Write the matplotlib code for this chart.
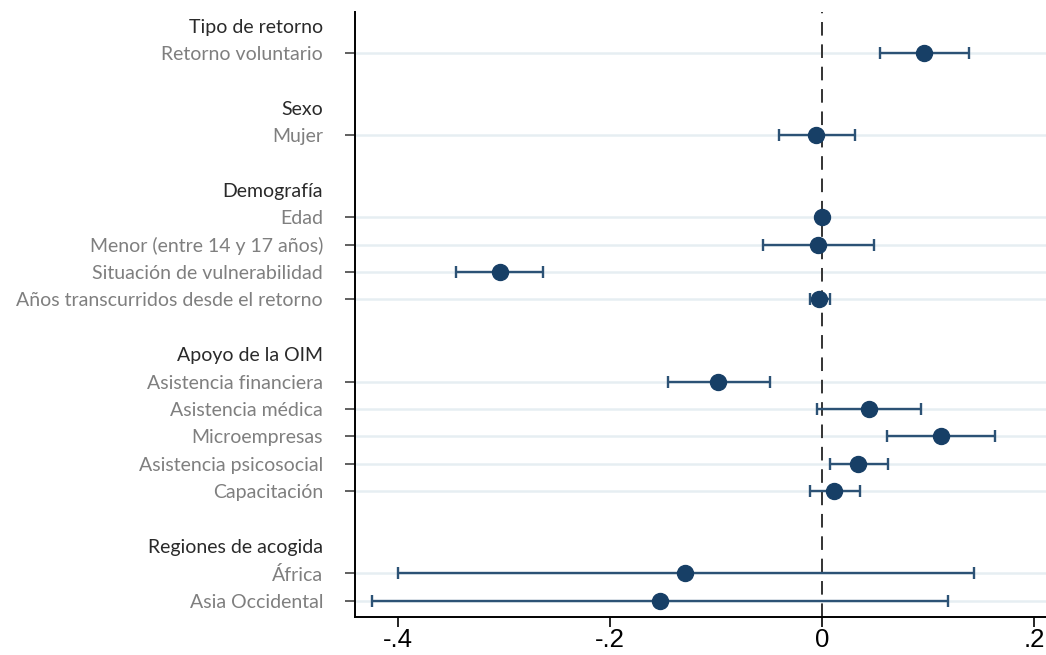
import numpy as np
import matplotlib.pyplot as plt

# Row layout: headers and variables, top to bottom
headers = ["Tipo de retorno", "Sexo", "Demografía", "Apoyo de la OIM", "Regiones de acogida"]
header_rows = [0, 3, 6, 12, 19]

labels = ["Retorno voluntario", "Mujer", "Edad", "Menor (entre 14 y 17 años)",
          "Situación de vulnerabilidad", "Años transcurridos desde el retorno",
          "Asistencia financiera", "Asistencia médica", "Microempresas",
          "Asistencia psicosocial", "Capacitación", "África", "Asia Occidental"]
label_rows = [1, 4, 7, 8, 9, 10, 13, 14, 15, 16, 17, 20, 21]

coef = [0.096, -0.006, 0.000, -0.004, -0.304, -0.003,
        -0.098, 0.044, 0.112, 0.034, 0.011, -0.129, -0.153]
ci_low = [0.054, -0.041, -0.001, -0.056, -0.345, -0.012,
          -0.145, -0.005, 0.061, 0.007, -0.012, -0.400, -0.425]
ci_high = [0.138, 0.031, 0.001, 0.049, -0.263, 0.007,
           -0.049, 0.093, 0.163, 0.062, 0.036, 0.143, 0.119]

xticks = [-0.4, -0.2, 0, 0.2]
xtick_labels = ["-.4", "-.2", "0", ".2"]

navy = "#173f66"
line_col = "#2c5275"

fig = plt.figure(figsize=(10.46, 6.55), dpi=100)
ax = fig.add_axes([0.3394, 0.058, 0.6606, 0.9237])

coef = np.array(coef)
err = np.vstack([coef - np.array(ci_low), np.array(ci_high) - coef])

for r in label_rows:
    ax.axhline(r, color="#e6eef2", lw=1.8, zorder=0)

ax.axvline(0, color="#333333", lw=1.4, ls=(0, (7, 4.5)), zorder=1)

ax.errorbar(coef, label_rows, xerr=err, fmt="o", color=navy, ecolor=line_col,
            elinewidth=1.7, capsize=4.5, capthick=1.7, markersize=11.5, zorder=3)

ax.set_ylim(21.6, -0.5)
ax.set_xlim(-0.4406, 0.211)

# variable labels as major ticks, group headers as minor ticks without a tick mark
ax.set_yticks(label_rows)
ax.set_yticklabels(labels)
ax.set_yticks(header_rows, minor=True)
ax.set_yticklabels(headers, minor=True)
ax.tick_params(axis="y", which="major", length=7, width=1.2, pad=16,
               labelsize=14, labelcolor="#7f7f7f", color="#444444")
ax.tick_params(axis="y", which="minor", length=0, pad=23,
               labelsize=14, labelcolor="#2a2a2a")
for t in ax.get_yticklabels() + ax.get_yticklabels(minor=True):
    t.set_fontfamily("Lato")

ax.set_xticks(xticks)
ax.set_xticklabels(xtick_labels)
ax.tick_params(axis="x", length=7, width=1.2, labelsize=18.5, pad=1)
for t in ax.get_xticklabels():
    t.set_fontfamily("Liberation Sans")

for s in ["top", "right"]:
    ax.spines[s].set_visible(False)
for s in ["left", "bottom"]:
    ax.spines[s].set_linewidth(1.4)

fig.savefig("out.png", dpi=100)
